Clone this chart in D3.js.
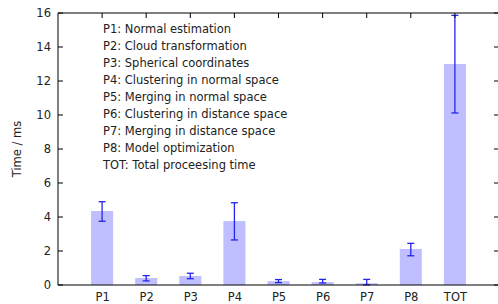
<!DOCTYPE html>
<html>
<head>
<meta charset="utf-8">
<script src="https://cdn.jsdelivr.net/npm/d3@7"></script>
<style>
  body { margin: 0; background: #fff; }
  text { font-family: "DejaVu Sans", sans-serif; fill: #222; }
</style>
</head>
<body>
<div id="chart"></div>
<script>
// Chart data
const categories = ["P1", "P2", "P3", "P4", "P5", "P6", "P7", "P8", "TOT"];
const means = [4.35, 0.41, 0.53, 3.76, 0.23, 0.17, 0.10, 2.12, 13.0];
const errLow = [3.75, 0.24, 0.37, 2.65, 0.14, 0.12, 0.01, 1.72, 10.12];
const errHigh = [4.9, 0.55, 0.69, 4.84, 0.32, 0.33, 0.33, 2.45, 15.86];
const yTicks = [0, 2, 4, 6, 8, 10, 12, 14, 16];
const legendLines = [
    "P1: Normal estimation",
    "P2: Cloud transformation",
    "P3: Spherical coordinates",
    "P4: Clustering in normal space",
    "P5: Merging in normal space",
    "P6: Clustering in distance space",
    "P7: Merging in distance space",
    "P8: Model optimization",
    "TOT: Total proceesing time"
];

const data = categories.map((c, i) => ({ name: c, pos: i + 1, value: means[i], lo: errLow[i], hi: errHigh[i] }));

// Dimensions
const W = 498, H = 304;
const margin = { top: 13, right: -1, bottom: 19, left: 58 };
const width = W - margin.left - margin.right;
const height = H - margin.top - margin.bottom;
const fontSize = "11.5px";

const svg = d3.select("#chart")
    .append("svg")
    .attr("width", W)
    .attr("height", H)
    .append("g")
    .attr("transform", `translate(${margin.left},${margin.top})`);

// Scales
const x = d3.scaleLinear().domain([0, 10]).range([0, width]);
const y = d3.scaleLinear().domain([0, 16]).range([height, 0]);

// Bars
svg.selectAll(".bar")
    .data(data)
    .enter()
    .append("rect")
    .attr("class", "bar")
    .attr("x", d => x(d.pos - 0.25))
    .attr("width", x(0.5) - x(0))
    .attr("y", d => y(d.value))
    .attr("height", d => y(0) - y(d.value))
    .style("fill", "#bfbfff");

// Error bars
const errColor = "#2424ee";
const err = svg.selectAll(".err")
    .data(data)
    .enter()
    .append("g")
    .attr("class", "err")
    .style("stroke", errColor)
    .style("stroke-width", 1.3);

err.append("line")
    .attr("x1", d => x(d.pos)).attr("x2", d => x(d.pos))
    .attr("y1", d => y(d.lo)).attr("y2", d => y(d.hi));
err.append("line")
    .attr("x1", d => x(d.pos) - 3.5).attr("x2", d => x(d.pos) + 3.5)
    .attr("y1", d => y(d.hi)).attr("y2", d => y(d.hi));
err.append("line")
    .attr("x1", d => x(d.pos) - 3.5).attr("x2", d => x(d.pos) + 3.5)
    .attr("y1", d => y(d.lo)).attr("y2", d => y(d.lo));

// Left axis labels
const yAxis = svg.append("g")
    .call(d3.axisLeft(y).tickValues(yTicks).tickSize(0).tickPadding(7));
yAxis.select(".domain").remove();
yAxis.selectAll("text").style("font-size", fontSize).style("font-family", "DejaVu Sans, sans-serif");

// Inward tick marks on left and right
svg.append("g")
    .selectAll("line")
    .data(yTicks)
    .enter()
    .append("line")
    .attr("x1", 0).attr("x2", 5)
    .attr("y1", d => y(d)).attr("y2", d => y(d))
    .style("stroke", "#000");
svg.append("g")
    .selectAll("line")
    .data(yTicks)
    .enter()
    .append("line")
    .attr("x1", width - 5).attr("x2", width)
    .attr("y1", d => y(d)).attr("y2", d => y(d))
    .style("stroke", "#000");

// Top mirrored ticks
svg.append("g")
    .selectAll("line")
    .data(data)
    .enter()
    .append("line")
    .attr("x1", d => x(d.pos)).attr("x2", d => x(d.pos))
    .attr("y1", 0).attr("y2", 5)
    .style("stroke", "#000");

// Bottom axis labels
const xAxis = svg.append("g")
    .attr("transform", `translate(0,${height})`)
    .call(d3.axisBottom(x).tickValues(data.map(d => d.pos)).tickFormat((d, i) => categories[i]).tickSize(0).tickPadding(8));
xAxis.select(".domain").remove();
xAxis.selectAll("text").style("font-size", fontSize).style("font-family", "DejaVu Sans, sans-serif");

// Border lines
svg.append("line").attr("x1", 0).attr("x2", 0).attr("y1", 0).attr("y2", height).style("stroke", "#000");
svg.append("line").attr("x1", 0).attr("x2", width).attr("y1", 0).attr("y2", 0).style("stroke", "#000");
svg.append("line").attr("x1", 0).attr("x2", width).attr("y1", height).attr("y2", height).style("stroke", "#000");

// Y axis label
svg.append("text")
    .attr("transform", "rotate(-90)")
    .attr("x", -height / 2)
    .attr("y", -37)
    .attr("text-anchor", "middle")
    .style("font-size", fontSize)
    .text("Time / ms");

// Legend text
svg.append("g")
    .selectAll("text")
    .data(legendLines)
    .enter()
    .append("text")
    .attr("x", 45)
    .attr("y", (d, i) => 20 + i * 17)
    .style("font-size", fontSize)
    .text(d => d);
</script>
</body>
</html>
